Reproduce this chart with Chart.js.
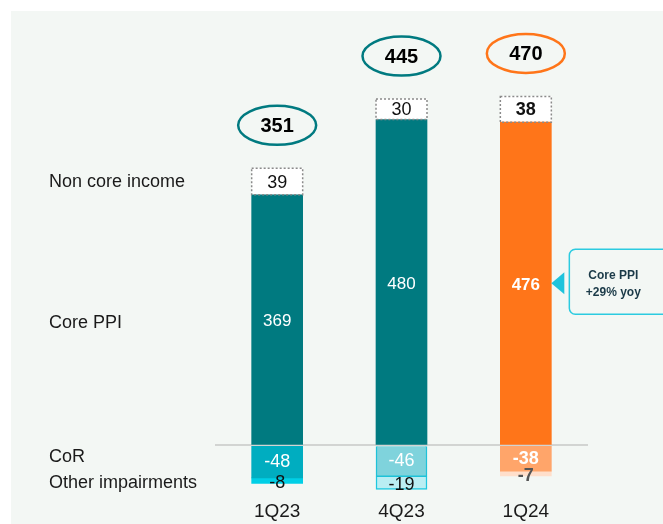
<!DOCTYPE html>
<html>
<head>
<meta charset="utf-8">
<script src="https://cdn.jsdelivr.net/npm/chart.js@4/dist/chart.umd.min.js"></script>
<style>
  body { margin: 0; background: #fff; }
  canvas { display: block; }
</style>
</head>
<body>
<canvas id="myChart" width="663" height="524"></canvas>
<script>
// data
const quarters = ['1Q23', '4Q23', '1Q24']
const corePPI = [369, 480, 476]
const nonCore = [39, 30, 38]
const cor = [-48, -46, -38]
const otherImp = [-8, -19, -7]
const totals = [351, 445, 470]
const rowLabels = ['Non core income', 'Core PPI', 'CoR', 'Other impairments']
const calloutText = ['Core PPI', '+29% yoy']

const TEAL = '#007a80'
const ORANGE = '#ff7519'
const FONT = '"Liberation Sans", Arial, sans-serif'

// background panel + page
const panelPlugin = {
  id: 'panel',
  beforeDraw(chart) {
    let ctx = chart.ctx
    ctx.save()
    ctx.fillStyle = '#ffffff'
    ctx.fillRect(0, 0, chart.width, chart.height)
    ctx.fillStyle = '#f3f7f4'
    ctx.fillRect(11, 11, chart.width - 11, chart.height - 11)
    ctx.restore()
  }
}

// labels, dotted boxes, ellipses, callout
const annotPlugin = {
  id: 'annot',
  afterDatasetsDraw(chart) {
    let ctx = chart.ctx
    let metas = [0, 1, 2, 3].map(i => chart.getDatasetMeta(i))
    ctx.save()

    // dotted border on non core income
    metas[1].data.forEach(el => {
      let left = el.x - el.width / 2
      ctx.setLineDash([2, 2])
      ctx.strokeStyle = '#8a8a8a'
      ctx.lineWidth = 1.5
      ctx.strokeRect(left, el.y, el.width, el.base - el.y)
    })
    ctx.setLineDash([])

    // values inside bars
    ctx.textAlign = 'center'
    ctx.textBaseline = 'middle'
    let styles = [
      { col: ['#fff', '#fff', '#fff'], dy: 2, size: 17 },
      { col: ['#111', '#111', '#111'], dy: 1, size: 18 },
      { col: ['#fff', '#fff', '#fff'], dy: 0, size: 18 },
      { col: ['#111', '#111', '#555'], dy: 2, size: 18 }
    ]
    let dataArr = [corePPI, nonCore, cor, otherImp]
    metas.forEach((meta, d) => {
      meta.data.forEach((el, i) => {
        let bold = i == 2 ? 'bold ' : ''
        ctx.font = bold + styles[d].size + 'px ' + FONT
        ctx.fillStyle = styles[d].col[i]
        ctx.fillText(dataArr[d][i], el.x, (el.y + el.base) / 2 + styles[d].dy)
      })
    })

    // total ellipses
    metas[1].data.forEach((el, i) => {
      let cy = el.y - 43
      ctx.beginPath()
      ctx.ellipse(el.x, cy, 39, 19.5, 0, 0, Math.PI * 2)
      ctx.strokeStyle = i == 2 ? ORANGE : TEAL
      ctx.lineWidth = 2.5
      ctx.stroke()
      ctx.fillStyle = '#000'
      ctx.font = 'bold 20px ' + FONT
      ctx.fillText(totals[i], el.x, cy + 1)
    })

    // row labels on the left, next to the first bar
    ctx.textAlign = 'left'
    ctx.fillStyle = '#1a1a1a'
    ctx.font = '18px ' + FONT
    let shift = [0, 3, -5, 2]
    let order = [1, 0, 2, 3]
    rowLabels.forEach((txt, r) => {
      let el = metas[order[r]].data[0]
      ctx.fillText(txt, 49, (el.y + el.base) / 2 + shift[r])
    })

    // callout next to 1Q24 core bar
    let el = metas[0].data[2]
    let cy = (el.y + el.base) / 2
    let right = el.x + el.width / 2
    ctx.fillStyle = '#1fc3dc'
    ctx.beginPath()
    ctx.moveTo(right, cy)
    ctx.lineTo(right + 13, cy - 11)
    ctx.lineTo(right + 13, cy + 11)
    ctx.closePath()
    ctx.fill()
    ctx.beginPath()
    ctx.roundRect(right + 18, cy - 34, 110, 65, 6)
    ctx.fillStyle = '#f3f7f4'
    ctx.fill()
    ctx.strokeStyle = '#2ccbe0'
    ctx.lineWidth = 1.5
    ctx.stroke()
    ctx.fillStyle = '#1b3a48'
    ctx.font = 'bold 12px ' + FONT
    ctx.textAlign = 'center'
    ctx.fillText(calloutText[0], right + 62, cy - 8)
    ctx.fillText(calloutText[1], right + 62, cy + 9)

    ctx.restore()
  }
}

let ctx = document.getElementById('myChart').getContext('2d')
let myChart = new Chart(ctx, {
  type: 'bar',
  data: {
    labels: quarters,
    datasets: [{
      label: 'Core PPI',
      data: corePPI,
      backgroundColor: [TEAL, TEAL, ORANGE],
      borderWidth: 0
    }, {
      label: 'Non core income',
      data: nonCore,
      backgroundColor: '#ffffff',
      borderWidth: 0
    }, {
      label: 'CoR',
      data: cor,
      backgroundColor: ['#00adc0', '#7fd3dc', '#ffa56a'],
      borderColor: ['rgba(0,0,0,0)', '#1ec2d8', 'rgba(0,0,0,0)'],
      borderWidth: [0, 1.5, 0]
    }, {
      label: 'Other impairments',
      data: otherImp,
      backgroundColor: ['#00cfe6', '#baeef3', '#ffdfcb'],
      borderColor: ['rgba(0,0,0,0)', '#1ec8e0', 'rgba(0,0,0,0)'],
      borderWidth: [0, 1.5, 0]
    }]
  },
  options: {
    responsive: false,
    animation: false,
    barThickness: 51,
    layout: { padding: { left: 215, right: 75, top: 38, bottom: 0 } },
    plugins: {
      legend: { display: false },
      tooltip: { enabled: false }
    },
    scales: {
      x: {
        stacked: true,
        grid: { display: false, drawTicks: false },
        border: { display: false },
        ticks: { color: '#1a1a1a', font: { family: FONT, size: 19, lineHeight: 1 }, padding: 3 }
      },
      y: {
        stacked: true,
        min: -79,
        max: 600,
        ticks: { display: false, stepSize: 79 },
        border: { display: false },
        grid: {
          drawTicks: false,
          lineWidth: 2,
          color: c => c.tick && c.tick.value === 0 ? '#d2d4d2' : 'rgba(0,0,0,0)'
        }
      }
    }
  },
  plugins: [panelPlugin, annotPlugin]
})
</script>
</body>
</html>
